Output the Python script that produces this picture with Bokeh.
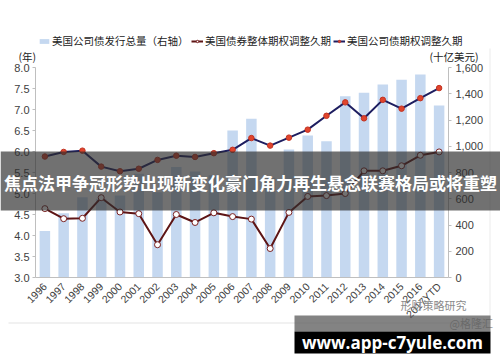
import math
from bokeh.plotting import figure
from bokeh.models import (Range1d, LinearAxis, Label, BoxAnnotation,
                          Legend, LegendItem, NumeralTickFormatter, FixedTicker)
from bokeh.embed import file_html
from bokeh.resources import INLINE

years = ["1996", "1997", "1998", "1999", "2000", "2001", "2002", "2003", "2004",
         "2005", "2006", "2007", "2008", "2009", "2010", "2011", "2012", "2013",
         "2014", "2015", "2016", "2017YTD"]
# 美国公司债发行总量（十亿美元, 右轴）
issuance = [355, 490, 612, 600, 625, 790, 650, 841, 808, 780, 1120, 1209,
            760, 975, 1082, 1039, 1381, 1407, 1471, 1506, 1547, 1311]
# 美国债券整体期权调整久期
oad_all = [4.64, 4.40, 4.41, 4.90, 4.56, 4.52, 3.78, 4.50, 4.31, 4.54, 4.45, 4.39,
           3.69, 4.55, 4.93, 4.95, 5.00, 5.54, 5.54, 5.66, 5.91, 5.99]
# 美国公司债期权调整久期
oad_corp = [5.88, 5.99, 6.02, 5.64, 5.53, 5.59, 5.80, 5.90, 5.87, 5.96, 6.04, 6.32,
            6.14, 6.33, 6.52, 6.85, 7.17, 6.79, 7.23, 7.02, 7.27, 7.51]

left_ticks = [3.0, 3.5, 4.0, 4.5, 5.0, 5.5, 6.0, 6.5, 7.0, 7.5, 8.0]
right_ticks = [0, 200, 400, 600, 800, 1000, 1200, 1400, 1600]

legend_labels = ["美国公司债发行总量（右轴）", "美国债券整体期权调整久期", "美国公司债期权调整久期"]
title_text = "焦点法甲争冠形势出现新变化豪门角力再生悬念联赛格局或将重塑"

W, H = 500, 362
FL, FR, FT, FB = 35, 448, 67, 277   # plotting area inside the canvas (px)
n = len(years)
xs = list(range(n))

# ranges chosen so that the full canvas is the frame and the plot area sits at FL..FR, FT..FB
cw = (FR - FL) / n
x0 = -0.5 - FL / cw
x1 = n - 0.5 + (W - FR) / cw
ly_pp = (8 - 3) / (FB - FT)
y_lo = 3 - (H - FB) * ly_pp
y_hi = 8 + FT * ly_pp
ry_pp = 1600 / (FB - FT)
r_lo = 0 - (H - FB) * ry_pp
r_hi = 1600 + FT * ry_pp

CJK = "Noto Sans CJK SC"
LAT = "Liberation Sans"

p = figure(width=W, height=H, x_range=Range1d(x0, x1), y_range=Range1d(y_lo, y_hi),
           output_backend="svg", toolbar_location=None,
           x_axis_location=None, y_axis_location=None,
           min_border=0, min_border_left=0, min_border_right=0,
           min_border_top=0, min_border_bottom=0)
p.outline_line_color = None
p.grid.visible = False
p.background_fill_color = "white"
p.border_fill_color = "white"
p.extra_y_ranges = {"r": Range1d(r_lo, r_hi)}

bars = p.vbar(x=xs, top=issuance, bottom=0, width=0.56, fill_color="#c5d8f0",
              line_color=None, y_range_name="r")

l2 = p.line(xs, oad_all, line_color="#5e1515", line_width=2)
s2 = p.scatter(xs, oad_all, size=6, fill_color="white", line_color="#7a2020",
               line_width=1)
l1 = p.line(xs, oad_corp, line_color="#1e1e60", line_width=2)
s1 = p.scatter(xs, oad_corp, size=5.5, fill_color="#e0442c", line_color="#c23322",
               line_width=1)


def style_axis(ax):
    ax.axis_line_color = "#bfbfbf"
    ax.major_tick_line_color = "#bfbfbf"
    ax.minor_tick_line_color = None
    ax.major_tick_in = 0
    ax.major_tick_out = 3
    ax.major_label_text_font = LAT
    ax.major_label_text_font_size = "11px"
    ax.major_label_text_color = "#404040"


ya = LinearAxis(ticker=FixedTicker(ticks=left_ticks),
                formatter=NumeralTickFormatter(format="0.0"),
                fixed_location=-0.5, bounds=(3, 8))
style_axis(ya)
ya.major_label_standoff = 3
p.add_layout(ya, "left")

ra = LinearAxis(y_range_name="r", ticker=FixedTicker(ticks=right_ticks),
                formatter=NumeralTickFormatter(format="0,0"),
                fixed_location=n - 0.5, bounds=(0, 1600))
style_axis(ra)
ra.major_label_standoff = 4
p.add_layout(ra, "right")

xa = LinearAxis(ticker=FixedTicker(ticks=xs), fixed_location=3,
                bounds=(-0.5, n - 0.5),
                major_label_overrides={i: y for i, y in zip(xs, years)})
style_axis(xa)
xa.major_label_orientation = math.pi / 4
xa.major_label_text_font_size = "10.5px"
xa.major_tick_out = 0
xa.major_label_standoff = 7
p.add_layout(xa, "below")


def add_legend(label, rends, cx, cy_bottom):
    lg = Legend(items=[LegendItem(label=label, renderers=rends)],
                location=(cx, H - cy_bottom), orientation="horizontal",
                padding=0, margin=0, spacing=0, label_standoff=2,
                glyph_width=12, glyph_height=6, label_height=12,
                label_text_font=CJK, label_text_font_size="10.5px",
                label_text_color="#222222", background_fill_alpha=0,
                border_line_alpha=0)
    p.add_layout(lg, "center")


add_legend(legend_labels[0], [bars], 38, 48)
add_legend(legend_labels[1], [l2, s2], 191, 48)
add_legend(legend_labels[2], [l1, s1], 333, 48)


def add_text(txt, x, y, size, color, font=CJK, align="left", bold=False):
    lb = Label(x=x, y=H - y, x_units="screen", y_units="screen", text=txt,
               text_font=font, text_font_size=size, text_color=color,
               text_align=align, text_baseline="middle",
               text_font_style="bold" if bold else "normal")
    p.add_layout(lb)


def add_box(l, r, t, b, color, alpha):
    bx = BoxAnnotation(left=l, right=r, top=H - t, bottom=H - b,
                       left_units="screen", right_units="screen",
                       top_units="screen", bottom_units="screen",
                       fill_color=color, fill_alpha=alpha, line_alpha=0)
    p.add_layout(bx)


add_text("(年)", 18, 56, "10.5px", "#222222")
add_text("(十亿美元)", 429, 56, "10.5px", "#222222")

# light chart-frame lines
add_box(8, 490, 322, 323, "#e3e3e3", 1)
add_box(489, 490, 48, 323, "#ececec", 1)

# watermarks
add_text("形财策略研究", 400, 304, "11px", "#8a8a8a")
add_text("@格隆汇", 449, 322, "11px", "#9a9a9a")

# overlay band with headline
add_box(0, 500, 151, 210, "#2e2e2e", 0.68)
add_text(title_text, 250, 182, "17px", "white", align="center", bold=True)

# bottom url box
add_box(294, 490, 315, 331, "#5a5a5a", 0.75)
add_box(294, 490, 331, 353, "#000000", 1)
add_text("www.app-c7yule.com", 392, 342, "17px", "white", font="Open Sans",
         align="center", bold=True)

open("out.html", "w").write(file_html(p, INLINE))
